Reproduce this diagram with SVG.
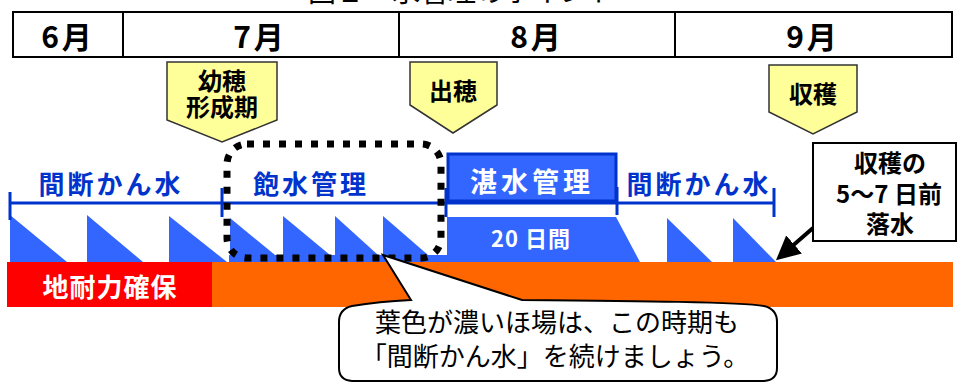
<svg xmlns="http://www.w3.org/2000/svg" width="958" height="383" viewBox="0 0 958 383">
<defs>
<style>
.jp{font-family:"Noto Sans CJK JP","Noto Sans",sans-serif;}
.b{font-weight:bold;}
.month{font-size:30px;font-weight:bold;fill:#000;text-anchor:middle;letter-spacing:3px;}
.mk{fill:#ffff99;stroke:#333;stroke-width:1.5;}
.mkt{font-size:24px;font-weight:bold;fill:#000;text-anchor:middle;}
.bt{font-size:26px;font-weight:bold;fill:#0033cc;text-anchor:middle;letter-spacing:3px;}
.wave{fill:#3366ff;}
.tick{stroke:#0033cc;stroke-width:3;fill:none;}
</style>
<marker id="ah" markerWidth="6" markerHeight="6" refX="4" refY="3" orient="auto" markerUnits="strokeWidth">
<path d="M0,0 L6,3 L0,6 Z" fill="#000"/>
</marker>
</defs>
<rect width="958" height="383" fill="#fff"/>

<g id="title">
<text class="jp" x="308" y="2" font-size="28" fill="#000">図１　水管理のポイント</text>
</g>

<g id="months">
<rect x="13" y="12" width="939" height="45" fill="#fff" stroke="#000" stroke-width="2"/>
<line x1="123" y1="12" x2="123" y2="57" stroke="#000" stroke-width="2"/>
<line x1="399" y1="12" x2="399" y2="57" stroke="#000" stroke-width="2"/>
<line x1="675" y1="12" x2="675" y2="57" stroke="#000" stroke-width="2"/>
<text class="jp month" x="68" y="48">6月</text>
<text class="jp month" x="260" y="48">7月</text>
<text class="jp month" x="537" y="48">8月</text>
<text class="jp month" x="813" y="48">9月</text>
</g>

<g id="marker-youhou">
<polygon class="mk" points="167,62 277,62 277,120 222,142 167,120"/>
<text class="jp mkt" x="222" y="90"><tspan x="222" y="90">幼穂</tspan><tspan x="222" y="116">形成期</tspan></text>
</g>
<g id="marker-shussui">
<polygon class="mk" points="410,62 497,62 497,105 453,133 410,105"/>
<text class="jp mkt" x="453" y="100">出穂</text>
</g>
<g id="marker-shukaku">
<polygon class="mk" points="769,65 857,65 857,112 813,134 769,112"/>
<text class="jp mkt" x="813" y="103">収穫</text>
</g>

<g id="soil">
<rect x="212" y="262" width="741" height="45" fill="#ff6600"/>
<rect x="7" y="262" width="205" height="45" fill="#ff0000"/>
<text class="jp b" x="110" y="297" font-size="26" fill="#fff" text-anchor="middle" letter-spacing="1">地耐力確保</text>
</g>

<g id="water">
<polygon class="wave" points="10,215 67,262 10,262"/>
<polygon class="wave" points="87,215 143,262 87,262"/>
<polygon class="wave" points="169,216 227,262 169,262"/>
<rect class="wave" x="229" y="255" width="220" height="7"/>
<polygon class="wave" points="230,218 275,255 230,255"/>
<polygon class="wave" points="283,216 330,255 283,255"/>
<polygon class="wave" points="335,216 378,255 335,255"/>
<polygon class="wave" points="383,216 428,255 383,255"/>
<polygon class="wave" points="447,217 616,217 640,262 447,262"/>
<polygon class="wave" points="667,218 712,262 667,262"/>
<polygon class="wave" points="733,218 776,262 733,262"/>
<text class="jp b" x="531" y="247" font-size="22" fill="#fff" text-anchor="middle" letter-spacing="1">20 日間</text>
</g>

<g id="timeline">
<line class="tick" x1="10" y1="203" x2="775" y2="203"/>
<line class="tick" x1="10" y1="192" x2="10" y2="220"/>
<line class="tick" x1="222" y1="188" x2="222" y2="217"/>
<line class="tick" x1="446" y1="188" x2="446" y2="217"/>
<line class="tick" x1="617" y1="187" x2="617" y2="215"/>
<line class="tick" x1="774" y1="188" x2="774" y2="217"/>
</g>

<g id="label-kanketsu1">
<text class="jp bt" x="111" y="194">間断かん水</text>
</g>
<g id="label-housui">
<text class="jp bt" x="311" y="194">飽水管理</text>
</g>
<g id="label-tansui">
<rect x="448" y="154" width="168" height="47" fill="#3366ff" stroke="#0033cc" stroke-width="3"/>
<text class="jp b" x="532" y="192" font-size="27" fill="#fff" text-anchor="middle" letter-spacing="4">湛水管理</text>
</g>
<g id="label-kanketsu2">
<text class="jp bt" x="699" y="194">間断かん水</text>
</g>

<g id="highlight">
<rect x="227" y="144" width="214" height="114" rx="20" ry="20" fill="none" stroke="#000" stroke-width="7" stroke-dasharray="7 9"/>
</g>

<g id="note-rakusui">
<rect x="813" y="143" width="143" height="98" fill="#fff" stroke="#000" stroke-width="2"/>
<text class="jp b" x="890" y="172" font-size="24" fill="#000" text-anchor="middle"><tspan x="890" y="172">収穫の</tspan><tspan x="889" y="203">5～7 日前</tspan><tspan x="890" y="233">落水</tspan></text>
</g>

<g id="callout">
<path d="M383,255 L522,300 C640,301 740,302 764,306 Q777,309 777,322 L777,368 Q777,380 764,381 L352,381 Q339,380 339,368 L339,322 Q339,309 352,306 C370,303 390,301 411,300 Z" fill="#fff" stroke="#000" stroke-width="2"/>
<text class="jp" x="557" y="332" font-size="26" fill="#000" text-anchor="middle"><tspan x="557" y="332">葉色が濃いほ場は、この時期も</tspan><tspan x="555" y="366">「間断かん水」を続けましょう。</tspan></text>
</g>

<g id="connectors">
<line x1="813" y1="228" x2="782" y2="255" stroke="#000" stroke-width="4" marker-end="url(#ah)"/>
</g>
</svg>
